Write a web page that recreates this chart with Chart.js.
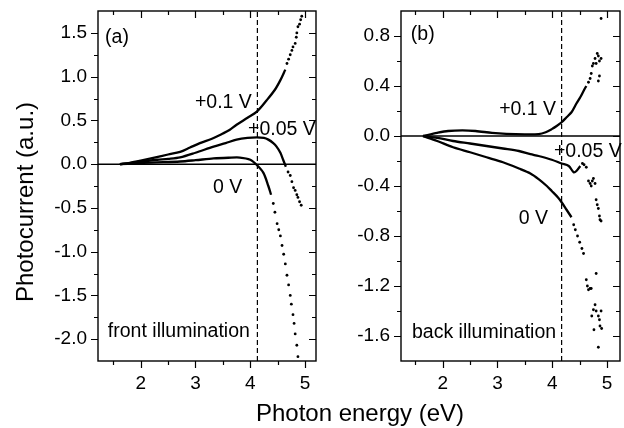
<!DOCTYPE html>
<html><head><meta charset="utf-8">
<script src="https://cdn.jsdelivr.net/npm/chart.js@4.4.1/dist/chart.umd.min.js"></script>
<style>
html,body{margin:0;padding:0;background:#fff;width:624px;height:428px;overflow:hidden;position:relative;}
canvas{position:absolute;top:0;}
#ca{left:0;}
#cb{left:320px;}
.t{position:absolute;font-family:"Liberation Sans",Arial,sans-serif;font-size:24px;line-height:24px;color:#000;white-space:nowrap;}
#xt{left:210px;width:300px;text-align:center;top:401px;}
#yt{left:-105px;width:260px;height:24px;text-align:center;top:190px;transform:rotate(-90deg);}
</style>
</head><body>
<canvas id="ca" width="320" height="428"></canvas>
<canvas id="cb" width="304" height="428"></canvas>
<div class="t" id="xt">Photon energy (eV)</div>
<div class="t" id="yt">Photocurrent (a.u.)</div>
<script>
// ---------- tick values ----------
const xTicks = [1.5, 2, 2.5, 3, 3.5, 4, 4.5, 5];
const yTicksA = [-2, -1.75, -1.5, -1.25, -1, -0.75, -0.5, -0.25, 0, 0.25, 0.5, 0.75, 1, 1.25, 1.5];
const yTicksB = [-1.6, -1.4, -1.2, -1.0, -0.8, -0.6, -0.4, -0.2, 0, 0.2, 0.4, 0.6, 0.8];
const xRangeA = [1.22, 5.2];
const yRangeA = [-2.25, 1.75];
const xRangeB = [1.24, 5.235];
const yRangeB = [-1.8, 1.0];
const dashXA = 4.13;
const dashXB = 4.17;

// ---------- panel (a): front illumination ----------
const aP10Line = [[1.62,0],[1.8,0.015],[2.0,0.04],[2.25,0.075],[2.5,0.11],[2.72,0.14],[2.9,0.19],[3.08,0.24],[3.3,0.29],[3.5,0.35],[3.62,0.39],[3.75,0.45],[3.95,0.53],[4.12,0.6],[4.3,0.73],[4.45,0.85],[4.55,0.96],[4.64,1.08]];
const aP10Dots = [[4.67,1.15],[4.7,1.2],[4.73,1.25],[4.76,1.3],[4.78,1.34],[4.82,1.38],[4.84,1.45],[4.85,1.5],[4.87,1.57],[4.9,1.6],[4.92,1.65],[4.94,1.69]];
const aP05Line = [[1.62,0],[1.8,0.012],[2.0,0.03],[2.3,0.05],[2.5,0.06],[2.72,0.077],[3.0,0.13],[3.33,0.2],[3.55,0.24],[3.75,0.28],[3.95,0.3],[4.12,0.305],[4.25,0.3],[4.33,0.28],[4.42,0.24],[4.48,0.2],[4.55,0.13],[4.6,0.05],[4.65,-0.03]];
const aP05Dots = [[4.69,-0.09],[4.73,-0.13],[4.76,-0.2],[4.79,-0.27],[4.82,-0.3],[4.85,-0.35],[4.87,-0.38],[4.9,-0.43],[4.93,-0.47]];
const a0Line = [[1.62,0],[1.9,0.008],[2.2,0.018],[2.72,0.03],[3.0,0.045],[3.33,0.065],[3.6,0.073],[3.81,0.075],[4.0,0.05],[4.12,-0.01],[4.24,-0.1],[4.33,-0.25],[4.38,-0.35]];
const a0Dots = [[4.42,-0.45],[4.45,-0.55],[4.49,-0.68],[4.52,-0.75],[4.55,-0.82],[4.58,-0.93],[4.61,-1.03],[4.64,-1.14],[4.67,-1.27],[4.7,-1.38],[4.73,-1.5],[4.75,-1.6],[4.78,-1.72],[4.8,-1.82],[4.82,-1.94],[4.85,-2.07],[4.87,-2.2]];

// ---------- panel (b): back illumination ----------
const bP10Line = [[1.64,0],[1.9,0.025],[2.1,0.04],[2.36,0.045],[2.6,0.04],[2.9,0.025],[3.16,0.017],[3.5,0.013],[3.75,0.015],[3.88,0.03],[3.99,0.055],[4.08,0.08],[4.17,0.11],[4.26,0.15],[4.35,0.19],[4.44,0.26],[4.51,0.31],[4.57,0.36],[4.62,0.4]];
const bP10Dots = [[4.66,0.43],[4.69,0.46],[4.71,0.5],[4.73,0.56],[4.75,0.58],[4.78,0.62],[4.8,0.58],[4.82,0.66],[4.84,0.64],[4.86,0.6],[4.89,0.62],[4.84,0.44],[4.86,0.48],[4.89,0.94]];
const bP05Line = [[1.64,0],[1.9,-0.015],[2.19,-0.04],[2.5,-0.06],[2.8,-0.08],[3.1,-0.1],[3.39,-0.12],[3.6,-0.145],[3.75,-0.16],[3.99,-0.19],[4.17,-0.22],[4.3,-0.24],[4.39,-0.29],[4.44,-0.28],[4.51,-0.24]];
const bP05Dots = [[4.55,-0.22],[4.58,-0.23],[4.62,-0.25],[4.66,-0.36],[4.69,-0.38],[4.71,-0.4],[4.73,-0.36],[4.75,-0.34],[4.78,-0.38],[4.8,-0.51],[4.82,-0.55],[4.84,-0.58],[4.86,-0.64],[4.87,-0.67],[4.89,-0.68]];
const b0Line = [[1.64,0],[1.9,-0.04],[2.19,-0.09],[2.5,-0.13],[2.8,-0.17],[3.1,-0.21],[3.39,-0.26],[3.6,-0.3],[3.75,-0.345],[3.9,-0.4],[3.99,-0.44],[4.1,-0.49],[4.17,-0.53],[4.26,-0.59],[4.35,-0.65]];
const b0Dots = [[4.39,-0.71],[4.42,-0.75],[4.46,-0.8],[4.5,-0.85],[4.54,-0.9],[4.57,-0.94],[4.62,-1.15],[4.64,-1.2],[4.66,-1.23],[4.69,-1.22],[4.71,-1.22],[4.8,-1.1],[4.72,-1.44],[4.75,-1.39],[4.78,-1.35],[4.8,-1.4],[4.84,-1.44],[4.86,-1.47],[4.89,-1.4],[4.76,-1.55],[4.9,-1.54],[4.84,-1.69],[4.87,-1.52]];

// ---------- annotation texts (data coordinates) ----------
const textA = [["(a)",1.35,1.39],["+0.1 V",2.99,0.64],["+0.05 V",3.96,0.333],["0 V",3.32,-0.33],["front illumination",1.40,-1.976]];
const textB = [["(b)",1.42,0.767],["+0.1 V",3.03,0.166],["+0.05 V",4.03,-0.171],["0 V",3.39,-0.701],["back illumination",1.44,-1.616]];

const FONT = '"Liberation Sans", Arial, sans-serif';
const pts = arr => arr.map(p => ({x:p[0], y:p[1]}));
const near = (v, step) => Math.abs(Math.round(v/step)*step - v) < 1e-6;

const framePlugin = {
  id: 'frame',
  afterDraw(chart, args, o) {
    const {ctx, chartArea: a, scales} = chart;
    ctx.save();
    ctx.strokeStyle = '#000';
    ctx.lineWidth = 1.4;
    ctx.strokeRect(a.left, a.top, a.right - a.left, a.bottom - a.top);
    ctx.lineWidth = 1.2;
    ctx.beginPath();
    scales.x.ticks.forEach(t => {
      const px = Math.round(scales.x.getPixelForValue(t.value)) + 0.5;
      const L = near(t.value, 1) ? 7 : 4;
      ctx.moveTo(px, a.bottom); ctx.lineTo(px, a.bottom + L);
      ctx.moveTo(px, a.top); ctx.lineTo(px, a.top + L);
    });
    scales.y.ticks.forEach(t => {
      const py = Math.round(scales.y.getPixelForValue(t.value)) + 0.5;
      const L = near(t.value, o.yMajor) ? 7 : 4;
      ctx.moveTo(a.left - L, py); ctx.lineTo(a.left, py);
      ctx.moveTo(a.right, py); ctx.lineTo(a.right - L, py);
    });
    ctx.stroke();
    ctx.fillStyle = '#000';
    ctx.font = '19.5px ' + FONT;
    ctx.textAlign = 'left';
    ctx.textBaseline = 'alphabetic';
    o.texts.forEach(tx => {
      ctx.fillText(tx[0], scales.x.getPixelForValue(tx[1]), scales.y.getPixelForValue(tx[2]));
    });
    ctx.restore();
  }
};

function makePanel(id, cfg) {
  const lineDs = d => ({data: pts(d), showLine: true, borderColor: '#000', borderWidth: 2.3, pointRadius: 0, tension: 0.3, fill: false});
  const dotDs = d => ({data: pts(d), showLine: false, backgroundColor: '#000', borderWidth: 0, pointRadius: 1.4});
  const datasets = [
    {data: [{x: cfg.xr[0], y: 0}, {x: cfg.xr[1], y: 0}], showLine: true, borderColor: '#000', borderWidth: 1.5, pointRadius: 0},
    {data: [{x: cfg.dash, y: cfg.yr[0]}, {x: cfg.dash, y: cfg.yr[1]}], showLine: true, borderColor: '#000', borderWidth: 1.2, borderDash: [5, 3], pointRadius: 0},
  ];
  cfg.lines.forEach(l => datasets.push(lineDs(l)));
  cfg.dots.forEach(d => datasets.push(dotDs(d)));
  return new Chart(document.getElementById(id), {
    type: 'scatter',
    data: {datasets},
    options: {
      animation: false, responsive: false, maintainAspectRatio: false,
      layout: {padding: {top: 11, right: cfg.padRight, left: 0, bottom: 0}},
      plugins: {legend: {display: false}, tooltip: {enabled: false}, frame: {yMajor: cfg.yMajor, texts: cfg.texts}},
      scales: {
        x: {
          type: 'linear', min: cfg.xr[0], max: cfg.xr[1],
          grid: {display: false, drawTicks: false},
          border: {display: false},
          afterBuildTicks: s => { s.ticks = xTicks.map(v => ({value: v})); },
          afterFit: s => { s.height = 428 - 361; s.paddingLeft = 0; s.paddingRight = 0; },
          ticks: {color: '#000', font: {family: FONT, size: 19}, padding: 11, maxRotation: 0, autoSkip: false,
                  callback: v => near(v, 1) ? String(Math.round(v)) : ''}
        },
        y: {
          type: 'linear', min: cfg.yr[0], max: cfg.yr[1],
          grid: {display: false, drawTicks: false},
          border: {display: false},
          afterBuildTicks: s => { s.ticks = cfg.yTicks.map(v => ({value: v})); },
          afterFit: s => { s.width = cfg.yWidth; s.paddingTop = 0; s.paddingBottom = 0; },
          ticks: {color: '#000', font: {family: FONT, size: 19}, padding: 11, autoSkip: false,
                  callback: v => near(v, cfg.yMajor) ? (Math.abs(v) < 1e-9 ? '0.0' : v.toFixed(1)) : ''}
        }
      }
    },
    plugins: [framePlugin]
  });
}

makePanel('ca', {xr: xRangeA, yr: yRangeA, yTicks: yTicksA, yMajor: 0.5, dash: dashXA, yWidth: 98, padRight: 4,
  lines: [aP10Line, aP05Line, a0Line], dots: [aP10Dots, aP05Dots, a0Dots], texts: textA});
makePanel('cb', {xr: xRangeB, yr: yRangeB, yTicks: yTicksB, yMajor: 0.4, dash: dashXB, yWidth: 81, padRight: 2,
  lines: [bP10Line, bP05Line, b0Line], dots: [bP10Dots, bP05Dots, b0Dots], texts: textB});
</script>
</body></html>
